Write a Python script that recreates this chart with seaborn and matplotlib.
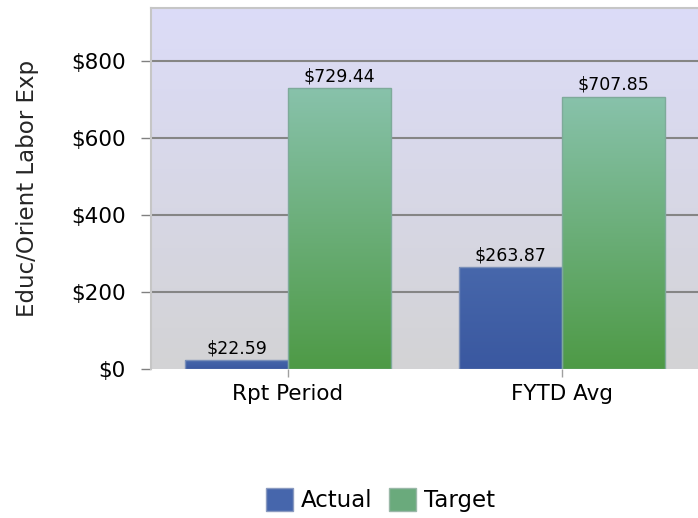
import numpy as np
import pandas as pd
import matplotlib.pyplot as plt
import seaborn as sns
from matplotlib.colors import LinearSegmentedColormap
from matplotlib.patches import Patch

# datos del grafico
categories = ['Rpt Period', 'FYTD Avg']
series = ['Actual', 'Target']
actual = [22.59, 263.87]
target = [729.44, 707.85]
yticks = [0, 200, 400, 600, 800]

df = pd.DataFrame({
    'cat': categories * 2,
    'serie': [series[0]] * len(categories) + [series[1]] * len(categories),
    'val': actual + target,
})

sns.set_style('white')
plt.rcParams['font.family'] = ['DejaVu Sans']
plt.rcParams['text.color'] = 'black'
plt.rcParams['xtick.labelcolor'] = 'black'
plt.rcParams['ytick.labelcolor'] = 'black'

fig = plt.figure(figsize=(6.98, 5.18), dpi=100)
ax = fig.add_axes([151 / 698, 149 / 518, 548 / 698, 361 / 518])

sns.barplot(data=df, x='cat', y='val', hue='serie', palette=['#4262a8', '#66a870'],
            width=0.75, ax=ax, legend=False, saturation=1)

# fondo degradado
bg = LinearSegmentedColormap.from_list('bg', ['#d3d3d5', '#dcdcf8'])
grad = np.linspace(0, 1, 256).reshape(-1, 1)
ax.imshow(grad, cmap=bg, aspect='auto', extent=[0, 1, 0, 1], origin='lower',
          transform=ax.transAxes, zorder=-1)

# barras con degradado
cmaps = [LinearSegmentedColormap.from_list('b', ['#3a58a0', '#4767ab']),
         LinearSegmentedColormap.from_list('g', ['#4e9a46', '#88c2ab'])]
edges = ['#7a8fb8', '#7eaa9a']
for i, cont in enumerate(ax.containers):
    for p in cont.patches:
        x0, w, h = p.get_x(), p.get_width(), p.get_height()
        im = ax.imshow(grad, cmap=cmaps[i], aspect='auto', origin='lower',
                       extent=[x0, x0 + w, 0, h], zorder=2)
        im.set_clip_path(p)
        p.set_facecolor('none')
        p.set_edgecolor(edges[i])
        p.set_linewidth(1)
        p.set_zorder(3)
    ax.bar_label(cont, labels=[f'${v:,.2f}' for v in cont.datavalues],
                 padding=2, fontsize=12.5, zorder=4, color='black')

ax.set_xlim(-0.5, 1.5)
ax.set_ylim(0, 938)
ax.set_yticks(yticks)
ax.set_yticklabels([f'${v}' for v in yticks])
ax.set_axisbelow(True)
ax.yaxis.grid(True, color='#858585', linewidth=1.5)
ax.get_ygridlines()[0].set_visible(False)

ax.tick_params(axis='y', left=True, length=7, width=1, color='#808080', labelsize=15.5, pad=11)
ax.tick_params(axis='x', bottom=True, length=6, width=1, color='#a0a0a0', labelsize=15.5, pad=5)
ax.set_xlabel('')
ax.set_ylabel('Educ/Orient Labor Exp', fontsize=16.5, va='center')
ax.yaxis.set_label_coords(-0.225, 0.5)

for s in ['left', 'top']:
    ax.spines[s].set_color('#c6c6c6')
    ax.spines[s].set_linewidth(1.5)
ax.spines['right'].set_visible(False)
ax.spines['bottom'].set_visible(False)

handles = [Patch(facecolor='#4666ac', edgecolor='#8a9ac0', label='Actual'),
           Patch(facecolor='#6aaa7c', edgecolor='#9ab8a8', label='Target')]
fig.legend(handles=handles, loc='center', bbox_to_anchor=(0.545, 0.035), ncol=2,
           frameon=False, fontsize=16.5, handlelength=1.2, handleheight=1.2,
           handletextpad=0.35, columnspacing=0.7)

fig.savefig('out.png', dpi=100)
